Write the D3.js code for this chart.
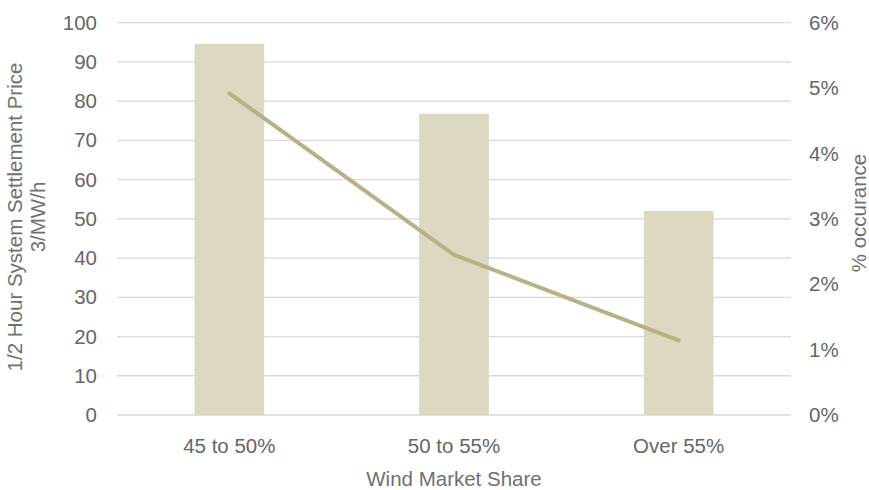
<!DOCTYPE html>
<html>
<head>
<meta charset="utf-8">
<script src="https://cdn.jsdelivr.net/npm/d3@7"></script>
<style>
  html, body { margin: 0; padding: 0; background: #fff; }
  svg { display: block; font-family: "Liberation Sans", Arial, sans-serif; }
</style>
</head>
<body>
<svg id="chart" width="869" height="490"></svg>
<script>
// Wind market share bands
const categories = ["45 to 50%", "50 to 55%", "Over 55%"];
// Average 1/2 hour system settlement price (bars, left axis)
const priceValues = [94.6, 76.8, 52.0];
// Share of settlement periods falling in each band (line, right axis)
const occurrenceValues = [0.0492, 0.0245, 0.0114];
// Axis ticks
const leftTicks = [0, 10, 20, 30, 40, 50, 60, 70, 80, 90, 100];
const rightTicks = [0, 0.01, 0.02, 0.03, 0.04, 0.05, 0.06];

const svg = d3.select("#chart");
const plot = { left: 117, right: 791, top: 22.7, bottom: 415 };
const fontSize = 20.5;

const x = d3.scaleBand()
  .domain(categories)
  .range([plot.left, plot.right])
  .paddingInner(0.69)
  .paddingOuter(0.345);

const yLeft = d3.scaleLinear().domain([0, 100]).range([plot.bottom, plot.top]);
const yRight = d3.scaleLinear().domain([0, 0.06]).range([plot.bottom, plot.top]);

const tickColor = "#666666";
const titleColor = "#707070";

// Horizontal gridlines
svg.append("g")
  .selectAll("line")
  .data(leftTicks)
  .join("line")
  .attr("x1", plot.left)
  .attr("x2", plot.right)
  .attr("y1", d => yLeft(d))
  .attr("y2", d => yLeft(d))
  .attr("stroke", "#d9d9d9")
  .attr("stroke-width", 1.3);

// Bars
svg.append("g")
  .selectAll("rect")
  .data(categories)
  .join("rect")
  .attr("x", d => x(d))
  .attr("width", x.bandwidth())
  .attr("y", (d, i) => yLeft(priceValues[i]))
  .attr("height", (d, i) => yLeft(0) - yLeft(priceValues[i]))
  .attr("fill", "#ddd8c2");

// Occurrence line
const line = d3.line()
  .x((d, i) => x(categories[i]) + x.bandwidth() / 2)
  .y(d => yRight(d));

svg.append("path")
  .datum(occurrenceValues)
  .attr("d", line)
  .attr("fill", "none")
  .attr("stroke", "#b8b087")
  .attr("stroke-width", 4)
  .attr("stroke-linecap", "round")
  .attr("stroke-linejoin", "round");

// Left axis labels
const leftAxis = d3.axisLeft(yLeft).tickValues(leftTicks).tickSize(0).tickPadding(0);
const gl = svg.append("g").attr("transform", "translate(97,0)").call(leftAxis);
gl.select(".domain").remove();
gl.selectAll("text")
  .attr("font-size", fontSize)
  .attr("font-family", "Liberation Sans, Arial, sans-serif")
  .attr("fill", tickColor);

// Right axis labels
const rightAxis = d3.axisRight(yRight).tickValues(rightTicks).tickFormat(d3.format(".0%")).tickSize(0).tickPadding(0);
const gr = svg.append("g").attr("transform", "translate(809,0)").call(rightAxis);
gr.select(".domain").remove();
gr.selectAll("text")
  .attr("font-size", fontSize)
  .attr("font-family", "Liberation Sans, Arial, sans-serif")
  .attr("fill", tickColor);

// Category labels
const xAxis = d3.axisBottom(x).tickSize(0).tickPadding(0);
const gx = svg.append("g").attr("transform", "translate(0,438)").call(xAxis);
gx.select(".domain").remove();
gx.selectAll("text")
  .attr("font-size", fontSize)
  .attr("font-family", "Liberation Sans, Arial, sans-serif")
  .attr("fill", tickColor)
  .attr("dy", "0.71em");

// Axis titles
svg.append("text")
  .attr("x", (plot.left + plot.right) / 2)
  .attr("y", 486)
  .attr("text-anchor", "middle")
  .attr("font-size", fontSize)
  .attr("fill", titleColor)
  .text("Wind Market Share");

const leftTitle = svg.append("text")
  .attr("transform", "translate(0,217) rotate(-90)")
  .attr("text-anchor", "middle")
  .attr("font-size", fontSize)
  .attr("fill", titleColor);
leftTitle.append("tspan").attr("x", 0).attr("y", 22).text("1/2 Hour System Settlement Price");
leftTitle.append("tspan").attr("x", 0).attr("y", 45).text("3/MW/h");

svg.append("text")
  .attr("transform", "translate(866,213) rotate(-90)")
  .attr("text-anchor", "middle")
  .attr("font-size", fontSize)
  .attr("fill", titleColor)
  .text("% occurance");
</script>
</body>
</html>
